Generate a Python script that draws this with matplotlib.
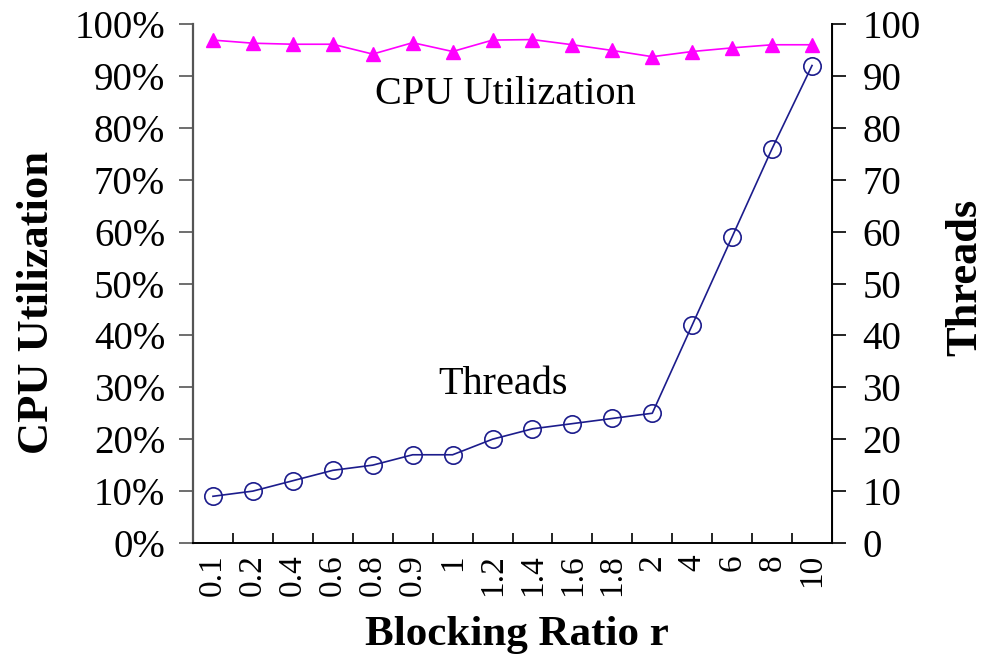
import matplotlib
matplotlib.use("Agg")
import matplotlib.pyplot as plt
from matplotlib.ticker import FixedLocator

plt.rcParams['font.family'] = ['Liberation Serif', 'DejaVu Serif']

# Data
ratios = ['0.1', '0.2', '0.4', '0.6', '0.8', '0.9', '1', '1.2', '1.4', '1.6',
          '1.8', '2', '4', '6', '8', '10']
cpu_util = [96.9, 96.3, 96.1, 96.1, 94.2, 96.4, 94.7, 96.9, 97.0, 96.0,
            94.9, 93.7, 94.7, 95.4, 96.0, 96.0]
threads = [9, 10, 12, 14, 15, 17, 17, 20, 22, 23, 24, 25, 42, 59, 76, 92]

W, H = 996, 658
fig = plt.figure(figsize=(W / 100, H / 100), dpi=100)

# axes box in pixels: left 193, right 832, top 24, bottom 543
ax = fig.add_axes([193 / W, 1 - 543 / H, (832 - 193) / W, (543 - 24) / H])
ax2 = ax.twinx()

x = list(range(len(ratios)))

# CPU utilization on the left axis
ax.plot(x, cpu_util, color='#ff00ff', lw=1.2, marker='^', markersize=10,
        markerfacecolor='#ff00ff', markeredgecolor='#ff00ff', clip_on=False, zorder=3)
ax.set_ylim(0, 100)
ax.set_yticks(range(0, 101, 10))
ax.set_yticklabels([f'{v}%' for v in range(0, 101, 10)], fontsize=28)
ax.set_xlim(-0.5, len(ratios) - 0.5)

# Threads on the right axis
ax2.plot(x, threads, color='#1c1c8c', lw=1.2, marker='o', markersize=12.5,
         markerfacecolor='none', markeredgecolor='#1c1c8c', markeredgewidth=1.2,
         clip_on=False, zorder=3)
ax2.set_ylim(0, 100)
ax2.set_yticks(range(0, 101, 10))
ax2.set_yticklabels([str(v) for v in range(0, 101, 10)], fontsize=28)

# x ticks: labels at category centres, short inward ticks between categories
ax.set_xticks(x)
ax.set_xticklabels(ratios, rotation=90, fontsize=24)
ax.xaxis.set_minor_locator(FixedLocator([i + 0.5 for i in range(len(ratios) - 1)]))
ax.tick_params(axis='x', which='major', length=0, pad=8)
ax.tick_params(axis='x', which='minor', direction='in', length=7, width=1.2)

ax.tick_params(axis='y', which='major', direction='out', length=10, width=1.2,
               color='#555555', pad=10)
ax2.tick_params(axis='y', which='major', direction='out', length=10, width=1.2,
                pad=12)

for a in (ax, ax2):
    a.spines['top'].set_visible(False)
ax.spines['left'].set_color('#555555')
ax.spines['left'].set_linewidth(1.6)
ax.spines['bottom'].set_linewidth(1.4)
ax2.spines['left'].set_visible(False)
ax2.spines['bottom'].set_visible(False)
ax2.spines['right'].set_linewidth(1.4)

# axis titles
fig.text(37 / W, 1 - 302 / H, 'CPU Utilization', rotation=90, fontsize=32,
         fontweight='bold', ha='center', va='center')
fig.text(965 / W, 1 - 277 / H, 'Threads', rotation=90, fontsize=32,
         fontweight='bold', ha='center', va='center')
fig.text(517 / W, 1 - 635 / H, 'Blocking Ratio r', fontsize=31,
         fontweight='bold', ha='center', va='center')

# series annotations
fig.text(505 / W, 1 - 95 / H, 'CPU Utilization', fontsize=29,
         ha='center', va='center')
fig.text(503 / W, 1 - 384 / H, 'Threads', fontsize=29,
         ha='center', va='center')

fig.savefig('out.png', dpi=100)
